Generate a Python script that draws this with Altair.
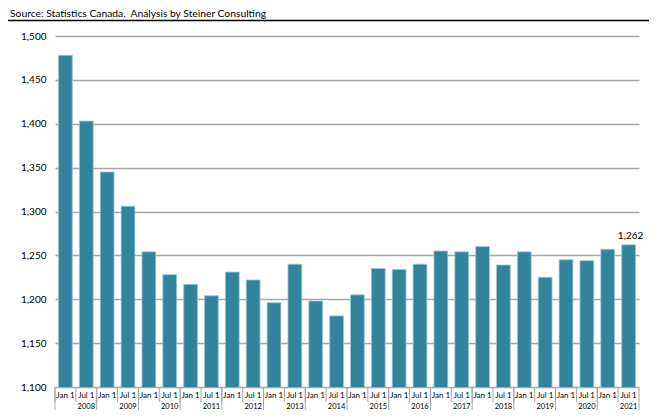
import altair as alt
import pandas as pd

years = list(range(2008, 2022))
periods = ["Jan 1", "Jul 1"]
values = [1478, 1403, 1345, 1306, 1254, 1228, 1217, 1204, 1231, 1222,
          1196, 1240, 1198, 1181, 1205, 1235, 1234, 1240, 1255, 1254,
          1260, 1239, 1254, 1225, 1245, 1244, 1257, 1262]
y_ticks = [1100, 1150, 1200, 1250, 1300, 1350, 1400, 1450, 1500]
title_text = "Source: Statistics Canada.\u00a0 Analysis by Steiner Consulting"
last_label = "1,262"

rows = []
i = 0
for y in years:
    for p in periods:
        rows.append({"key": f"{y} {p}", "year": str(y), "period": p, "value": values[i],
                     "lab": last_label if i == len(values) - 1 else ""})
        i += 1
df = pd.DataFrame(rows)
keys = list(df["key"])

W, H = 584, 351
FONT = "Lato"
GRID = "#a6a6a6"
BAR = "#31849B"

bar_scale = alt.Scale(domain=keys, paddingInner=0.34, paddingOuter=0.17)
sep_scale = alt.Scale(domain=keys, paddingInner=0, paddingOuter=0)
y_scale = alt.Scale(domain=[1100, 1500], zero=False, nice=False)
y_axis = alt.Axis(values=y_ticks, format=",.0f", title=None,
                  ticks=False, domain=False, labelPadding=9, labelFontSize=10,
                  labelColor="#000000", labelFont=FONT,
                  gridColor=GRID, gridWidth=1.3)

base = alt.Chart(df)

bars = base.mark_bar(color=BAR, stroke="#9cc6d2", strokeWidth=0.8, clip=True).encode(
    x=alt.X("key:N", sort=keys, scale=bar_scale, axis=None),
    y=alt.Y("value:Q", scale=y_scale, axis=y_axis),
)

label = base.mark_text(font=FONT, fontSize=10, color="#000000", dy=-9, dx=2).encode(
    x=alt.X("key:N", sort=keys, scale=bar_scale, axis=None),
    y=alt.Y("value:Q", scale=y_scale, axis=y_axis),
    text="lab:N",
)

month_sep = base.mark_rule(color=GRID, strokeWidth=1).encode(
    x=alt.X("key:N", sort=keys, scale=sep_scale, axis=None, bandPosition=0),
    y=alt.value(H),
    y2=alt.value(H + 15),
)

year_sep = base.transform_filter(alt.datum.period == "Jan 1").mark_rule(
    color=GRID, strokeWidth=1
).encode(
    x=alt.X("key:N", sort=keys, scale=sep_scale, axis=None, bandPosition=0),
    y=alt.value(H),
    y2=alt.value(H + 25),
)

end_sep = base.transform_filter(alt.datum.key == keys[-1]).mark_rule(
    color=GRID, strokeWidth=1
).encode(
    x=alt.X("key:N", sort=keys, scale=sep_scale, axis=None, bandPosition=1),
    y=alt.value(H),
    y2=alt.value(H + 25),
)

month_text = base.mark_text(font=FONT, fontSize=8, color="#000000", baseline="middle").encode(
    x=alt.X("key:N", sort=keys, scale=sep_scale, axis=None, bandPosition=0.5),
    y=alt.value(H + 8.5),
    text="period:N",
)

year_text = base.transform_filter(alt.datum.period == "Jul 1").mark_text(
    font=FONT, fontSize=7.5, color="#000000", baseline="middle"
).encode(
    x=alt.X("key:N", sort=keys, scale=sep_scale, axis=None, bandPosition=0),
    y=alt.value(H + 20),
    text="year:N",
)

title_df = pd.DataFrame({"t": [title_text]})
title = alt.Chart(title_df).mark_text(
    font=FONT, fontSize=10.3, color="#000000", align="left", baseline="alphabetic"
).encode(x=alt.value(-45), y=alt.value(-19), text="t:N")

title_line = alt.Chart(title_df).mark_rule(color="#000000", strokeWidth=1.5).encode(
    x=alt.value(-47), x2=alt.value(W + 10), y=alt.value(-15.5)
)

chart = alt.layer(
    bars, label, month_sep, year_sep, end_sep, month_text, year_text, title, title_line
).resolve_scale(x="independent").properties(
    width=W, height=H,
    autosize=alt.AutoSizeParams(type="none"),
    padding={"left": 47, "top": 28, "right": 10, "bottom": 23},
).configure(font=FONT, view=alt.ViewConfig(strokeWidth=0))

chart.save("out.html", embed_options={"renderer": "svg", "actions": False})
